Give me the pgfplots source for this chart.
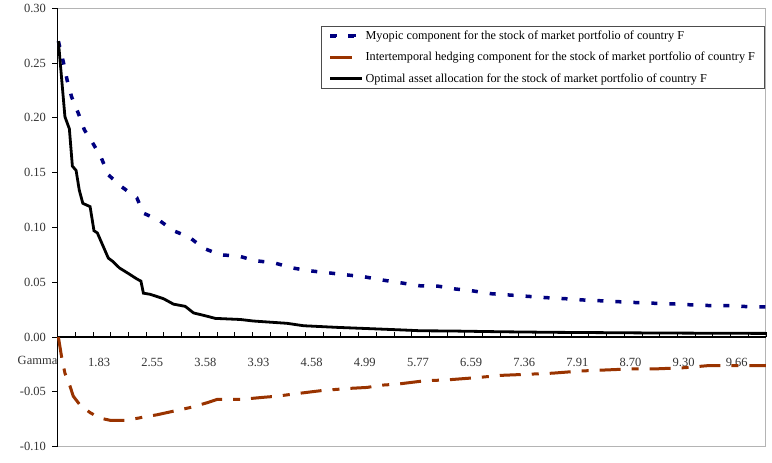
\documentclass[border=0pt]{standalone}
\usepackage{fontspec}
\setmainfont{Liberation Serif}
\usepackage{pgfplots}
\pgfplotsset{compat=1.18}
\definecolor{myblue}{RGB}{0,0,128}
\definecolor{mybrown}{RGB}{153,51,0}
\definecolor{framegray}{RGB}{180,180,180}
\newcommand{\lf}{\fontsize{12.5}{14}\selectfont}
\newcommand{\lgf}{\fontsize{12.2}{14}\selectfont}
\begin{document}
\begin{tikzpicture}
\useasboundingbox (-57.5pt,-15.5pt) rectangle (714.5pt,446.6pt);
\begin{axis}[
  scale only axis, width=708.5pt, height=438.3pt,
  xmin=0, xmax=40, ymin=-0.1, ymax=0.3,
  clip=false,
  axis line style={draw=framegray, line width=1pt},
  xtick={2.35,5.35,8.35,11.35,14.35,17.35,20.35,23.35,26.35,29.35,32.35,35.35,38.35},
  xticklabels={1.83,2.55,3.58,3.93,4.58,4.99,5.77,6.59,7.36,7.91,8.70,9.30,9.66},
  xtick style={draw=none},
  xticklabel style={font=\lf, anchor=center, yshift=89pt, text=black!80},
  ytick={-0.1,-0.05,0,0.05,0.1,0.15,0.2,0.25,0.3},
  yticklabels={-0.10,-0.05,0.00,0.05,0.10,0.15,0.20,0.25,0.30},
  ytick pos=left, tick align=outside, major tick length=5pt,
  ytick style={black, line width=0.8pt},
  yticklabel style={font=\lf, text=black!80, xshift=-3pt},
  legend style={at={(axis description cs:0.9976,0.9596)}, anchor=north east,
    draw=black!70, line width=0.8pt, font=\lgf, row sep=7.3pt, column sep=0pt,
    inner ysep=2.5pt, inner xsep=7pt, nodes={inner sep=2pt, text depth=0.15em}},
  legend cell align=left,
]
\draw[black, line width=1pt] (rel axis cs:0,0) -- (rel axis cs:0,1);
\draw[black, line width=1.2pt] (axis cs:0,0) -- (axis cs:40,0);
\pgfplotsinvokeforeach{0,...,40}{\draw[black, line width=0.8pt] (axis cs:#1,0) -- ([yshift=5pt]axis cs:#1,0);}

\addplot[myblue, line width=3.5pt, dash pattern=on 6pt off 12pt,
  legend image code/.code={\path (0pt,0pt) -- (31.4pt,0pt); \draw[myblue, line width=3pt] (0.4pt,0pt) -- (7.9pt,0pt); \draw[myblue, line width=3pt] (19.4pt,0pt) -- (26.9pt,0pt);}]
coordinates {
(0.05,0.270) (0.33,0.251) (0.55,0.234) (0.80,0.219) (1.18,0.204) (1.52,0.189) (1.99,0.177) (2.46,0.164) (2.87,0.148) (3.63,0.137) (4.48,0.127) (4.85,0.113) (5.70,0.107) (6.55,0.097) (7.45,0.091) (8.25,0.081) (9.19,0.075) (10.23,0.0739) (11.17,0.0696) (12.21,0.0678) (13.21,0.0632) (14.19,0.0605) (15.23,0.0587) (16.26,0.0568) (17.30,0.055) (18.34,0.052) (19.37,0.0495) (20.41,0.0468) (21.45,0.0465) (22.48,0.0438) (23.48,0.042) (24.50,0.0395) (25.54,0.0383) (26.57,0.0371) (27.61,0.0359) (28.65,0.035) (29.68,0.0338) (30.63,0.0331) (31.72,0.0322) (32.85,0.0313) (33.89,0.0307) (34.93,0.0301) (35.96,0.0292) (37.0,0.0286) (38.04,0.0286) (39.07,0.0276) (40,0.0276)
};
\addlegendentry{Myopic component for the stock of market portfolio of country F}

\addplot[mybrown, line width=3pt, dash pattern=on 21pt off 11pt on 7pt off 11pt,
  legend image code/.code={\path (0pt,0pt) -- (31.4pt,0pt); \draw[mybrown, line width=3pt] (0.4pt,0pt) -- (22.4pt,0pt);}]
coordinates {
(0.05,0) (0.24,-0.019) (0.42,-0.033) (0.71,-0.045) (0.89,-0.054) (1.27,-0.062) (1.84,-0.069) (2.40,-0.074) (2.97,-0.076) (3.82,-0.076) (4.57,-0.074) (4.85,-0.073) (5.61,-0.071) (6.74,-0.067) (7.59,-0.064) (8.44,-0.060) (9.00,-0.057) (9.57,-0.057) (10.32,-0.057) (11.64,-0.055) (12.40,-0.054) (13.34,-0.052) (14.85,-0.049) (16.36,-0.047) (17.49,-0.046) (18.24,-0.044) (19.19,-0.043) (20.69,-0.040) (22.10,-0.039) (23.71,-0.037) (25.03,-0.035) (26.54,-0.034) (27.95,-0.033) (29.55,-0.031) (31.06,-0.030) (32.48,-0.029) (33.89,-0.029) (35.40,-0.028) (36.81,-0.026) (38.32,-0.026) (39.73,-0.026) (40,-0.026)
};
\addlegendentry{Intertemporal hedging component for the stock of market portfolio of country F}

\addplot[black, line width=2.8pt,
  legend image code/.code={\path (0pt,0pt) -- (31.4pt,0pt); \draw[black, line width=3pt] (0.4pt,0pt) -- (31.4pt,0pt);}]
coordinates {
(0.05,0.270) (0.42,0.201) (0.67,0.190) (0.84,0.156) (1.05,0.152) (1.23,0.134) (1.43,0.122) (1.84,0.119) (2.06,0.097) (2.25,0.095) (2.87,0.072) (3.12,0.069) (3.50,0.063) (4.00,0.058) (4.48,0.053) (4.71,0.051) (4.85,0.040) (5.23,0.039) (5.98,0.035) (6.55,0.030) (7.21,0.028) (7.68,0.022) (8.44,0.019) (8.91,0.017) (10.32,0.016) (11.06,0.0146) (12.96,0.0125) (13.89,0.0103) (15.79,0.0088) (17.68,0.0076) (19.54,0.0064) (20.5,0.0057) (22.2,0.0055) (25.03,0.0048) (27.86,0.0043) (30.69,0.0040) (33.51,0.0037) (36.34,0.0035) (40,0.0033)
};
\addlegendentry{Optimal asset allocation for the stock of market portfolio of country F}

\node[anchor=east, inner sep=0pt, font=\lf, text=black!80] at ([yshift=-23pt]axis cs:0,0) {Gamma};
\end{axis}
\end{tikzpicture}
\end{document}
